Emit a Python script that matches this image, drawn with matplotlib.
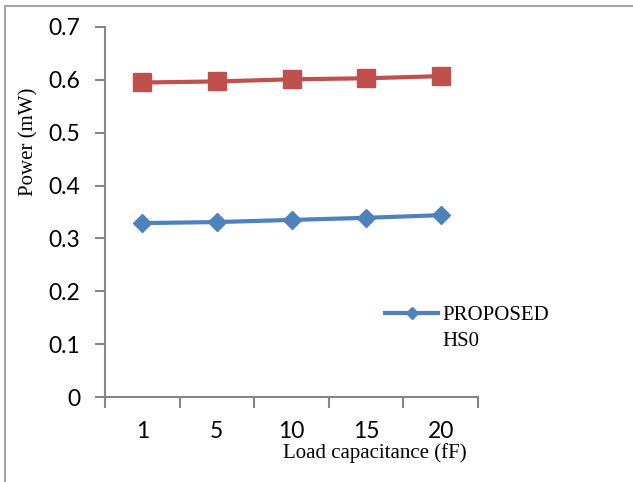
import matplotlib.pyplot as plt
from matplotlib.lines import Line2D

# load capacitance sweep
cap_labels = ['1', '5', '10', '15', '20']
power_hs0 = [0.329, 0.331, 0.335, 0.339, 0.344]
power_other = [0.595, 0.597, 0.601, 0.603, 0.607]

blue = '#4F81BD'
red = '#C0504D'
grey = '#868686'

fig = plt.figure(figsize=(6.33, 4.82), dpi=100)
ax = fig.add_axes([105 / 633, 85 / 482, 373 / 633, 370 / 482])

xs = range(len(cap_labels))
ax.plot(xs, power_other, color=red, lw=3, marker='s', ms=13.5)
ax.plot(xs, power_hs0, color=blue, lw=3, marker='D', ms=9.5, label='PROPOSED\nHS0')

ax.set_xlim(-0.5, len(cap_labels) - 0.5)
ax.set_ylim(0, 0.7)
ax.set_yticks([i / 10 for i in range(8)])
ax.set_yticklabels(['0', '0.1', '0.2', '0.3', '0.4', '0.5', '0.6', '0.7'])

# category labels in the middle, tick marks on the boundaries
ax.set_xticks([i - 0.5 for i in range(len(cap_labels) + 1)])
ax.set_xticklabels([])
ax.set_xticks(list(xs), minor=True)
ax.set_xticklabels(cap_labels, minor=True)
ax.tick_params(axis='x', which='minor', length=0, pad=17)
ax.tick_params(axis='x', which='major', length=8, width=1.5, color=grey)
ax.tick_params(axis='y', length=7, width=1.5, color=grey, pad=11)

for lab in ax.get_xticklabels(minor=True) + ax.get_yticklabels():
    lab.set_fontfamily('Lato')
    lab.set_fontsize(16.5)

for s in ['top', 'right']:
    ax.spines[s].set_visible(False)
for s in ['left', 'bottom']:
    ax.spines[s].set_color(grey)
    ax.spines[s].set_linewidth(1.5)

fig.text(375 / 633, 1 - 453 / 482, 'Load capacitance (fF)', family='Liberation Serif',
         fontsize=15, ha='center', va='center')
fig.text(29 / 633, 1 - 142 / 482, 'Power (mW)', family='Liberation Serif',
         fontsize=15, ha='center', va='center', rotation=90)

leg = ax.legend(loc='upper left', bbox_to_anchor=(385 / 633, 1 - 306 / 482),
                bbox_transform=fig.transFigure, frameon=False, markerscale=0.6,
                handlelength=2.55, handletextpad=0.2, borderpad=0, borderaxespad=0,
                prop={'family': 'Liberation Serif', 'size': 15})
for t in leg.get_texts():
    t.set_linespacing(1.5)
# keep the legend line level with the first text line
for col in leg._legend_handle_box.get_children():
    for row in col.get_children():
        row.align = 'top'

# chart area outline (top and left edges)
fig.add_artist(Line2D([5 / 633, 5 / 633], [0, 1 - 6 / 482], color='#A6A6A6', lw=1.5))
fig.add_artist(Line2D([5 / 633, 1], [1 - 6 / 482, 1 - 6 / 482], color='#A6A6A6', lw=1.5))

fig.savefig('out.png', dpi=100)
